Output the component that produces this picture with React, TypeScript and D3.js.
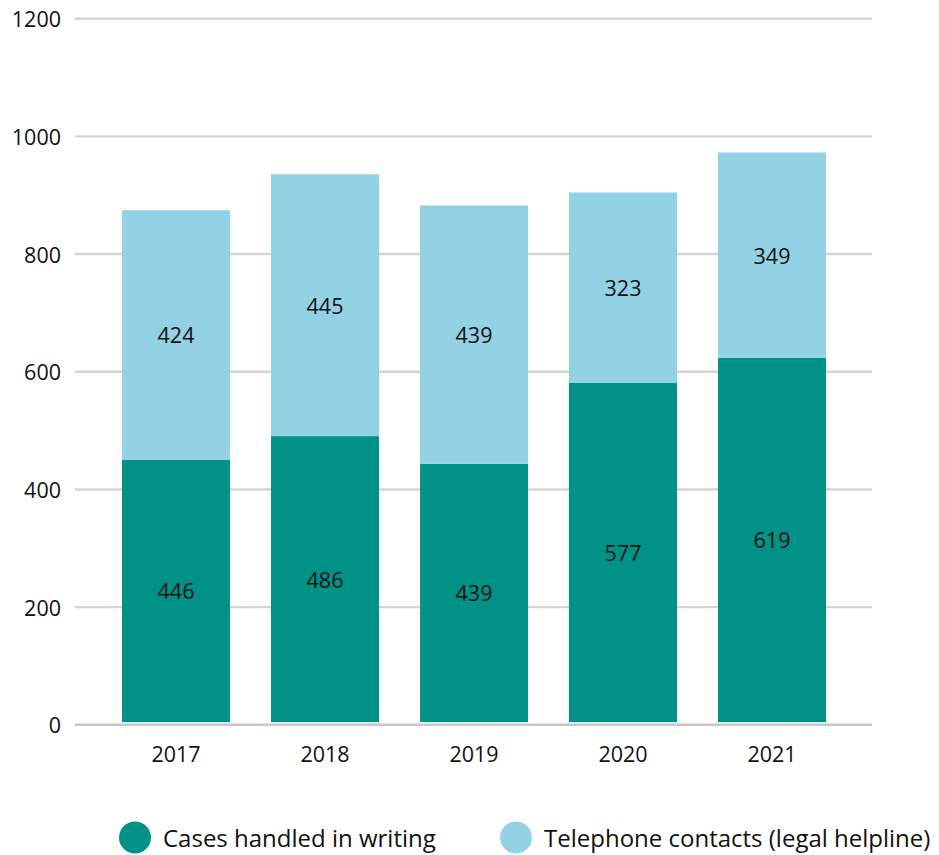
import React from "react";
import * as d3 from "d3";

const years = ["2017", "2018", "2019", "2020", "2021"];
const writtenCases = [446, 486, 439, 577, 619];
const phoneContacts = [424, 445, 439, 323, 349];
const yTicks = [0, 200, 400, 600, 800, 1000, 1200];
const seriesNames = ["Cases handled in writing", "Telephone contacts (legal helpline)"];
const seriesColors = ["#009187", "#93d1e5"];

const W = 939;
const H = 855;
const FONT = "'Open Sans', 'DejaVu Sans', sans-serif";

export default function App() {
  const x = d3
    .scaleBand<string>()
    .domain(years)
    .range([101.5, 846.5])
    .paddingInner(0.275)
    .paddingOuter(0.1375);
  const y = d3.scaleLinear().domain([0, 1200]).range([724.8, 18.7]);
  const barShift = 2.7;

  const rows = years.map((yr, i) => ({ year: yr, w: writtenCases[i], p: phoneContacts[i] }));
  const stack = d3.stack<any>().keys(["w", "p"])(rows);

  return (
    <svg
      width={W}
      height={H}
      style={{ position: "absolute", left: 0, top: 0, background: "#fff" }}
      fontFamily={FONT}
    >
      {yTicks.map((t) => (
        <g key={t}>
          <line
            x1={75}
            x2={872}
            y1={y(t)}
            y2={y(t)}
            stroke={t === 0 ? "#c8c8c8" : "#d4d4d4"}
            strokeWidth={t === 0 ? 2.6 : 2.4}
          />
          <text
            x={61}
            y={y(t)}
            textAnchor="end"
            dominantBaseline="central"
            fontSize={21.5}
            fill="#111"
          >
            {t}
          </text>
        </g>
      ))}
      {stack.map((s, si) => (
        <g key={si}>
          {s.map((d, i) => {
            const top = y(d[1]) - barShift;
            const bot = y(d[0]) - barShift;
            return (
              <g key={i}>
                <rect
                  x={x(years[i])}
                  y={top}
                  width={x.bandwidth()}
                  height={bot - top}
                  fill={seriesColors[si]}
                />
                <text
                  x={(x(years[i]) as number) + x.bandwidth() / 2}
                  y={(top + bot) / 2}
                  textAnchor="middle"
                  dominantBaseline="central"
                  fontSize={21.5}
                  fill="#111"
                >
                  {d[1] - d[0]}
                </text>
              </g>
            );
          })}
        </g>
      ))}
      {years.map((yr) => (
        <text
          key={yr}
          x={(x(yr) as number) + x.bandwidth() / 2}
          y={753}
          textAnchor="middle"
          dominantBaseline="central"
          fontSize={21.5}
          fill="#111"
        >
          {yr}
        </text>
      ))}
      {seriesNames.map((name, i) => {
        const cx = i === 0 ? 135 : 516;
        return (
          <g key={name}>
            <circle cx={cx} cy={837.5} r={16} fill={seriesColors[i]} />
            <text x={cx + 28} y={846.5} fontSize={24} fill="#111">
              {name}
            </text>
          </g>
        );
      })}
    </svg>
  );
}
